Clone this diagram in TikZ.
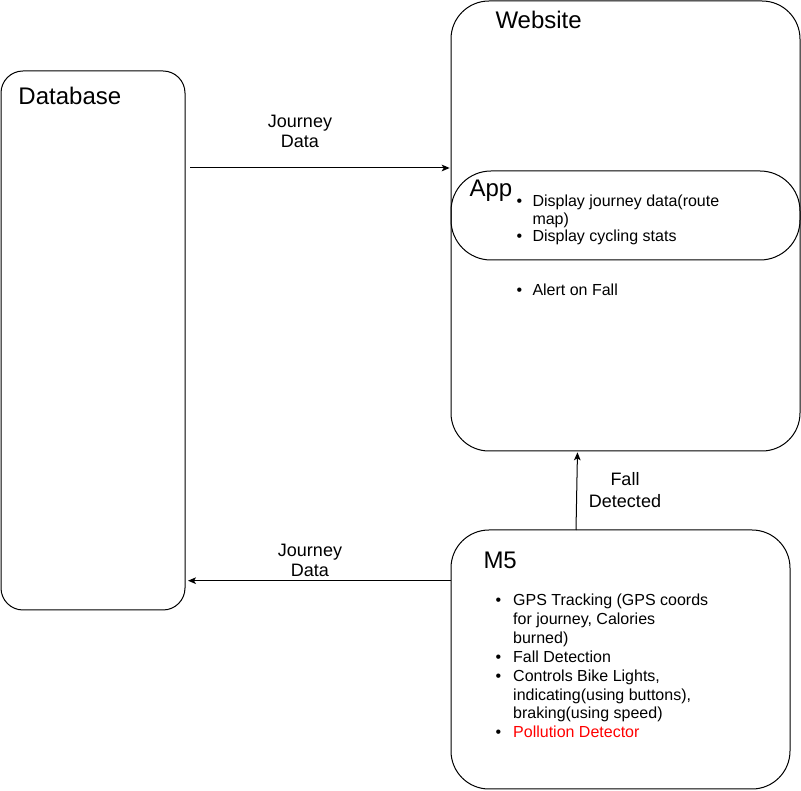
\documentclass[tikz,border=0pt]{standalone}
\usepackage{fontspec}
\setmainfont{Liberation Sans}
\usetikzlibrary{arrows.meta}
\begin{document}
\begin{tikzpicture}[x=0.75pt,y=-0.75pt, line width=0.75pt,
  box/.style={draw, rectangle, inner sep=0pt, outer sep=0pt, anchor=north west},
  arr/.style={-{Stealth[length=6pt,width=5pt,inset=1.5pt]}},
  title/.style={anchor=base west, inner sep=0pt, font=\fontsize{18}{21}\selectfont},
  body/.style={anchor=base west, inner sep=0pt, font=\fontsize{12}{14}\selectfont},
  lbl/.style={align=center, inner sep=0pt, font=\fontsize{13.5}{15}\selectfont}]
\useasboundingbox (0,0) rectangle (801,791);
% boxes
\node[box, rounded corners=16.5pt, minimum width=138pt, minimum height=404.25pt] (db) at (1,71) {};
\node[box, rounded corners=28.5pt, minimum width=261.75pt, minimum height=337.5pt] (web) at (451,1) {};
\node[box, rounded corners=30pt, minimum width=261.75pt, minimum height=66.75pt] (app) at (451,171) {};
\node[box, rounded corners=28.5pt, minimum width=254.25pt, minimum height=194.25pt] (m5) at (451,530) {};
% titles
\node[title] (tdb) at (18,105) {Database};
\node[title] (tweb) at (495,29) {Website};
\node[title] (tapp) at (469,196.7) {App};
\node[title] (tm5) at (483,569) {M5};
% app list
\node[body] (ab1) at (516.2,206.7) {•};
\node[body] (a1) at (532,206.7) {Display journey data(route};
\node[body] (a1b) at (532,224.3) {map)};
\node[body] (ab2) at (516.2,241.7) {•};
\node[body] (a2) at (532,241.7) {Display cycling stats};
\node[body] (ab3) at (516.2,296) {•};
\node[body] (a3) at (532,296) {Alert on Fall};
% m5 list
\node[body] (mb1) at (495.2,605.7) {•};
\node[body] (m1) at (512.7,605.7) {GPS Tracking (GPS coords};
\node[body] (m1b) at (512.7,624.4) {for journey, Calories};
\node[body] (m1c) at (512.7,643.1) {burned)};
\node[body] (mb2) at (495.2,662.3) {•};
\node[body] (m2) at (512.7,662.3) {Fall Detection};
\node[body] (mb3) at (495.2,681.3) {•};
\node[body] (m3) at (512.7,681.3) {Controls Bike Lights,};
\node[body] (m3b) at (512.7,700.2) {indicating(using buttons),};
\node[body] (m3c) at (512.7,718.9) {braking(using speed)};
\node[body] (mb4) at (495.2,737.8) {•};
\node[body, text=red] (m4) at (512.7,737.8) {Pollution Detector};
% connectors
\coordinate (y1) at (0,168);
\coordinate (y2) at (0,580.7);
\coordinate (x1) at (576,0);
\coordinate (x2) at (577.5,0);
\draw[arr, shorten <=3.75pt, shorten >=1pt] (db.east |- y1) -- (web.west |- y1);
\draw[arr, shorten >=2.25pt] (m5.west |- y2) -- (db.east |- y2);
\draw[arr, shorten >=1pt] (m5.north -| x1) -- (web.south -| x2);
% labels
\node[lbl] (l1) at (300,131) {Journey\\Data};
\node[lbl] (l2) at (310,560.2) {Journey\\Data};
\node[lbl, font=\fontsize{13.5}{16.3}\selectfont] (l3) at (625,490.4) {Fall\\Detected};
\end{tikzpicture}
\end{document}
